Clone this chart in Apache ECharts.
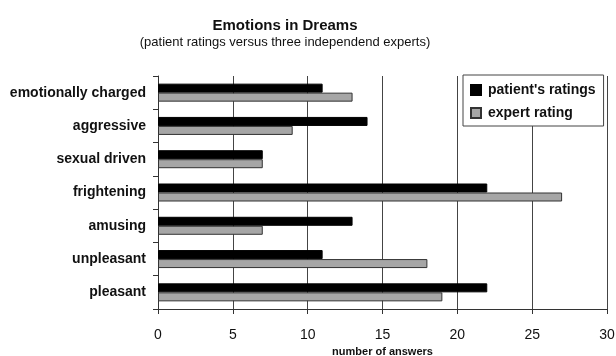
<!DOCTYPE html>
<html>
<head>
<meta charset="utf-8">
<style>
  html, body { margin: 0; padding: 0; background: #fff; }
  #chart { width: 616px; height: 356px; }
</style>
<script src="https://cdn.jsdelivr.net/npm/echarts@6/dist/echarts.min.js"></script>
</head>
<body>
<div id="chart"></div>
<script>
// Emotion categories, listed top to bottom
const categories = ['emotionally charged', 'aggressive', 'sexual driven', 'frightening', 'amusing', 'unpleasant', 'pleasant'];
// Number of answers per emotion
const patientRatings = [11, 14, 7, 22, 13, 11, 22];
const expertRatings = [13, 9, 7, 27, 7, 18, 19];
const xTicks = [0, 5, 10, 15, 20, 25, 30];

const FONT = '"Liberation Sans", Arial, sans-serif';
const chart = echarts.init(document.getElementById('chart'));

chart.setOption({
  animation: false,
  backgroundColor: '#fff',
  title: {
    text: 'Emotions in Dreams',
    subtext: '(patient ratings versus three independend experts)',
    left: 280,
    textAlign: 'center',
    top: 13,
    itemGap: 3,
    textStyle: { fontFamily: FONT, fontSize: 15, fontWeight: 'bold', color: '#111' },
    subtextStyle: { fontFamily: FONT, fontSize: 13, color: '#111' }
  },
  legend: {
    orient: 'vertical',
    left: 463,
    top: 75,
    padding: [8, 8, 6, 7],
    itemGap: 9,
    itemWidth: 10,
    itemHeight: 10,
    icon: 'rect',
    backgroundColor: '#fff',
    borderColor: '#444',
    borderWidth: 1,
    borderRadius: 0,
    textStyle: { fontFamily: FONT, fontSize: 14, fontWeight: 'bold', color: '#111', padding: [0, 0, 0, 2] },
    data: ["patient's ratings", 'expert rating']
  },
  grid: { left: 158, right: 9, top: 76, bottom: 47, containLabel: false, outerBoundsMode: 'none' },
  xAxis: {
    type: 'value',
    min: xTicks[0],
    max: xTicks[xTicks.length - 1],
    interval: 5,
    name: 'number of answers',
    nameLocation: 'middle',
    nameGap: 37,
    nameTextStyle: { fontFamily: FONT, fontSize: 11, fontWeight: 'bold', color: '#111' },
    axisLine: { show: true, lineStyle: { color: '#333', width: 1 } },
    axisTick: { show: true, length: 5, lineStyle: { color: '#333' } },
    axisLabel: { fontFamily: FONT, fontSize: 14, color: '#111', margin: 19 },
    splitLine: { show: true, lineStyle: { color: '#444', width: 1 } }
  },
  yAxis: {
    type: 'category',
    inverse: true,
    data: categories,
    axisLine: { show: true, lineStyle: { color: '#333', width: 1 } },
    axisTick: { show: true, length: 5, lineStyle: { color: '#333' } },
    axisLabel: { fontFamily: FONT, fontSize: 14, fontWeight: 'bold', color: '#111', margin: 12 }
  },
  series: [
    {
      name: "patient's ratings",
      type: 'bar',
      data: patientRatings,
      barWidth: 9,
      barGap: '0%',
      itemStyle: { color: '#000', borderColor: '#000', borderWidth: 1 }
    },
    {
      name: 'expert rating',
      type: 'bar',
      data: expertRatings,
      barWidth: 9,
      barGap: '0%',
      itemStyle: { color: '#a6a6a6', borderColor: '#333', borderWidth: 1 }
    }
  ]
});
</script>
</body>
</html>
